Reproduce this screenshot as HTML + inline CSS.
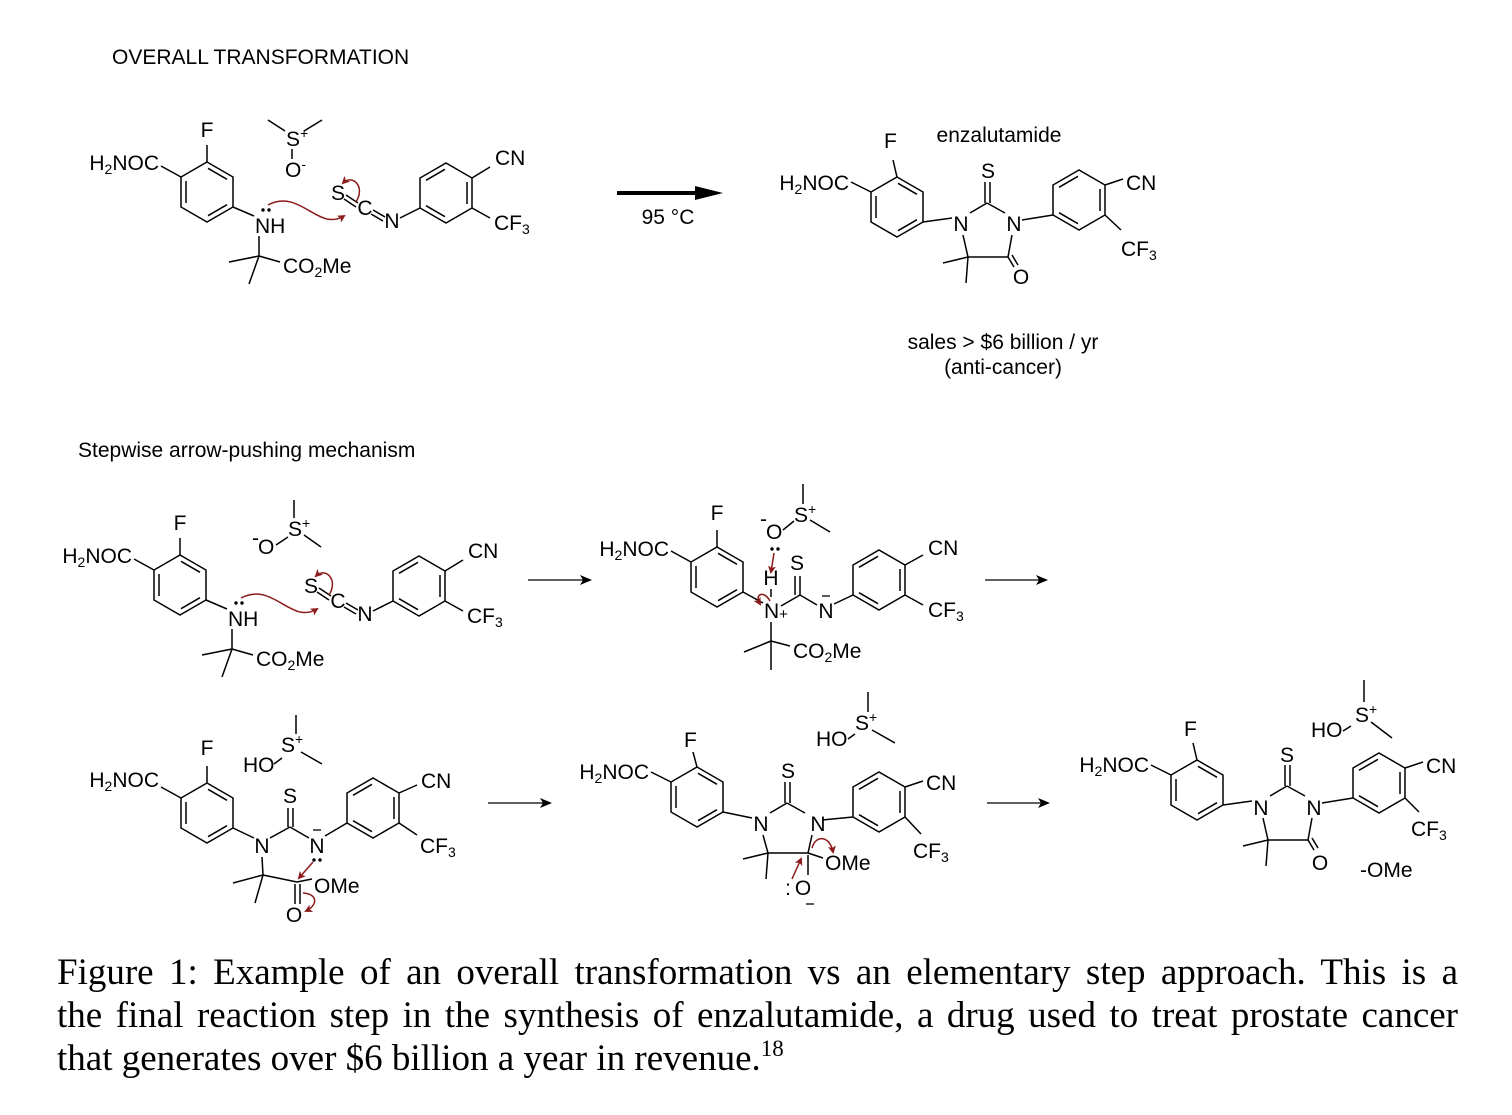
<!DOCTYPE html>
<html><head><meta charset="utf-8"><style>
html,body{margin:0;padding:0;background:#fff;}
body{width:1512px;height:1115px;position:relative;overflow:hidden;}
svg{position:absolute;left:0;top:0;}
svg text{font-family:"Liberation Sans",sans-serif;font-size:21px;fill:#000;}
.cap{position:absolute;left:57px;width:1401px;font-family:"Liberation Serif",serif;font-size:37px;line-height:43px;color:#000;}
.j{text-align:justify;text-align-last:justify;white-space:nowrap;}
</style></head><body>
<svg width="1512" height="1115" viewBox="0 0 1512 1115">
<defs>
<marker id="ar" markerWidth="8" markerHeight="8" refX="6" refY="4" orient="auto" markerUnits="userSpaceOnUse"><path d="M0,0 L8,4 L0,8 L2,4 z" fill="#8b1a1a"/></marker>
<marker id="bk" markerWidth="12" markerHeight="10" refX="10" refY="5" orient="auto" markerUnits="userSpaceOnUse"><path d="M0,0 L12,5 L0,10 L3,5 z" fill="#000"/></marker>
</defs>

<text x="112" y="64">OVERALL TRANSFORMATION</text>
<text x="78" y="457">Stepwise arrow-pushing mechanism</text>

<!-- ========== Molecule A (top) ========== -->
<g id="A">
 <g transform="translate(233,207)">
  <g stroke="#000" stroke-width="1.5" fill="none">
   <polygon points="-26,-45 0,-30 0,0 -26,15 -52,0 -52,-30"/>
   <line x1="-25" y1="-38.7" x2="-6" y2="-27.7"/><line x1="-47" y1="-26" x2="-47" y2="-4"/><line x1="-6" y1="-2.3" x2="-25" y2="8.7"/>
   <line x1="-26" y1="-45" x2="-26" y2="-62"/><line x1="-52" y1="-30" x2="-72" y2="-41"/>
  </g>
  <text x="-26" y="-70" text-anchor="middle">F</text>
  <text x="-74" y="-37" text-anchor="end">H<tspan font-size="14" dy="4">2</tspan><tspan dy="-4">NOC</tspan></text>
 </g>
 <g transform="translate(420,208)">
  <g stroke="#000" stroke-width="1.5" fill="none">
   <polygon points="0,0 0,-30 26,-45 52,-30 52,0 26,15"/>
   <line x1="6" y1="-27.7" x2="25" y2="-38.7"/><line x1="47" y1="-26" x2="47" y2="-4"/><line x1="6" y1="-2.3" x2="25" y2="8.7"/>
   <line x1="52" y1="-30" x2="70" y2="-41"/><line x1="52" y1="0" x2="70" y2="10"/>
  </g>
  <text x="75" y="-43">CN</text>
  <text x="74" y="22">CF<tspan font-size="14" dy="4">3</tspan></text>
 </g>
 <g stroke="#000" stroke-width="1.5" fill="none">
  <line x1="233" y1="207" x2="254" y2="216"/>
  <line x1="259" y1="236" x2="259" y2="256"/>
  <line x1="259" y1="256" x2="229" y2="262"/><line x1="259" y1="256" x2="249" y2="284"/><line x1="259" y1="256" x2="280" y2="262"/>
  <line x1="346" y1="195" x2="358" y2="203"/><line x1="344" y1="199" x2="356" y2="207"/>
  <line x1="373" y1="210" x2="385" y2="217"/><line x1="371" y1="214" x2="383" y2="221"/>
  <line x1="400" y1="218" x2="420" y2="208"/>
 </g>
 <text x="255" y="233">NH</text>
 <circle cx="263" cy="210" r="1.7"/><circle cx="269" cy="210" r="1.7"/>
 <text x="283" y="273">CO<tspan font-size="14" dy="4">2</tspan><tspan dy="-4">Me</tspan></text>
 <text x="338" y="200" text-anchor="middle" font-size="18">S</text>
 <text x="365" y="215" text-anchor="middle" font-size="18">C</text>
 <text x="392" y="228" text-anchor="middle" font-size="18">N</text>
 <path d="M268,205 C300,188 318,232 344,216" stroke="#8b1a1a" stroke-width="1.5" fill="none" marker-end="url(#ar)"/>
 <path d="M356,202 C366,186 352,174 343,183" stroke="#8b1a1a" stroke-width="1.5" fill="none" marker-end="url(#ar)"/>
</g>
<!-- top DMSO -->
<g stroke="#000" stroke-width="1.5"><line x1="268" y1="120" x2="285" y2="131"/><line x1="322" y1="120" x2="304" y2="131"/><line x1="292" y1="149" x2="292" y2="159"/></g>
<text x="286" y="146">S<tspan font-size="14" dy="-8">+</tspan></text>
<text x="285" y="177">O<tspan font-size="14" dy="-8">-</tspan></text>

<!-- top arrow -->
<line x1="617" y1="193" x2="700" y2="193" stroke="#000" stroke-width="4"/>
<path d="M695,186 L723,193 L695,200 z" fill="#000"/>
<text x="668" y="224" text-anchor="middle">95 °C</text>

<!-- ========== Enzalutamide ========== -->
<g id="E">
 <g transform="translate(923,222)">
  <g stroke="#000" stroke-width="1.5" fill="none">
   <polygon points="-26,-45 0,-30 0,0 -26,15 -52,0 -52,-30"/>
   <line x1="-25" y1="-38.7" x2="-6" y2="-27.7"/><line x1="-47" y1="-26" x2="-47" y2="-4"/><line x1="-6" y1="-2.3" x2="-25" y2="8.7"/>
   <line x1="-26" y1="-45" x2="-30" y2="-62"/><line x1="-52" y1="-30" x2="-72" y2="-40"/>
  </g>
  <text x="-39" y="-74">F</text>
  <text x="-74" y="-32" text-anchor="end">H<tspan font-size="14" dy="4">2</tspan><tspan dy="-4">NOC</tspan></text>
 </g>
 <g transform="translate(1053,215)">
  <g stroke="#000" stroke-width="1.5" fill="none">
   <polygon points="0,0 0,-30 26,-45 52,-30 52,0 26,15"/>
   <line x1="6" y1="-27.7" x2="25" y2="-38.7"/><line x1="47" y1="-26" x2="47" y2="-4"/><line x1="6" y1="-2.3" x2="25" y2="8.7"/>
   <line x1="52" y1="-30" x2="70" y2="-36"/><line x1="52" y1="0" x2="68" y2="15"/>
  </g>
  <text x="73" y="-25">CN</text>
  <text x="68" y="41">CF<tspan font-size="14" dy="4">3</tspan></text>
 </g>
 <g stroke="#000" stroke-width="1.5" fill="none">
  <line x1="923" y1="222" x2="952" y2="218"/>
  <line x1="970" y1="213" x2="987" y2="203"/><line x1="985" y1="182" x2="985" y2="203"/><line x1="990" y1="182" x2="990" y2="203"/>
  <line x1="987" y1="203" x2="1005" y2="213"/>
  <line x1="1012" y1="235" x2="1008" y2="257"/>
  <line x1="1008" y1="257" x2="1014" y2="267"/><line x1="1012" y1="255" x2="1018" y2="265"/>
  <line x1="1008" y1="257" x2="968" y2="257"/><line x1="968" y1="257" x2="963" y2="235"/>
  <line x1="968" y1="257" x2="943" y2="263"/><line x1="968" y1="257" x2="966" y2="283"/>
  <line x1="1022" y1="220" x2="1053" y2="215"/>
 </g>
 <text x="961" y="231" text-anchor="middle">N</text>
 <text x="988" y="178" text-anchor="middle">S</text>
 <text x="1014" y="231" text-anchor="middle">N</text>
 <text x="1021" y="284" text-anchor="middle">O</text>
</g>
<text x="999" y="142" text-anchor="middle">enzalutamide</text>
<text x="1003" y="349" text-anchor="middle">sales &gt; $6 billion / yr</text>
<text x="1003" y="374" text-anchor="middle">(anti-cancer)</text>

<!-- ========== Step 1 reactant (copy of A) ========== -->
<g transform="translate(-27,393)">
 <g transform="translate(233,207)">
  <g stroke="#000" stroke-width="1.5" fill="none">
   <polygon points="-26,-45 0,-30 0,0 -26,15 -52,0 -52,-30"/>
   <line x1="-25" y1="-38.7" x2="-6" y2="-27.7"/><line x1="-47" y1="-26" x2="-47" y2="-4"/><line x1="-6" y1="-2.3" x2="-25" y2="8.7"/>
   <line x1="-26" y1="-45" x2="-26" y2="-62"/><line x1="-52" y1="-30" x2="-72" y2="-41"/>
  </g>
  <text x="-26" y="-70" text-anchor="middle">F</text>
  <text x="-74" y="-37" text-anchor="end">H<tspan font-size="14" dy="4">2</tspan><tspan dy="-4">NOC</tspan></text>
 </g>
 <g transform="translate(420,208)">
  <g stroke="#000" stroke-width="1.5" fill="none">
   <polygon points="0,0 0,-30 26,-45 52,-30 52,0 26,15"/>
   <line x1="6" y1="-27.7" x2="25" y2="-38.7"/><line x1="47" y1="-26" x2="47" y2="-4"/><line x1="6" y1="-2.3" x2="25" y2="8.7"/>
   <line x1="52" y1="-30" x2="70" y2="-41"/><line x1="52" y1="0" x2="70" y2="10"/>
  </g>
  <text x="75" y="-43">CN</text>
  <text x="74" y="22">CF<tspan font-size="14" dy="4">3</tspan></text>
 </g>
 <g stroke="#000" stroke-width="1.5" fill="none">
  <line x1="233" y1="207" x2="254" y2="216"/>
  <line x1="259" y1="236" x2="259" y2="256"/>
  <line x1="259" y1="256" x2="229" y2="262"/><line x1="259" y1="256" x2="249" y2="284"/><line x1="259" y1="256" x2="280" y2="262"/>
  <line x1="346" y1="195" x2="358" y2="203"/><line x1="344" y1="199" x2="356" y2="207"/>
  <line x1="373" y1="210" x2="385" y2="217"/><line x1="371" y1="214" x2="383" y2="221"/>
  <line x1="400" y1="218" x2="420" y2="208"/>
 </g>
 <text x="255" y="233">NH</text>
 <circle cx="263" cy="210" r="1.7"/><circle cx="269" cy="210" r="1.7"/>
 <text x="283" y="273">CO<tspan font-size="14" dy="4">2</tspan><tspan dy="-4">Me</tspan></text>
 <text x="338" y="200" text-anchor="middle" font-size="18">S</text>
 <text x="365" y="215" text-anchor="middle" font-size="18">C</text>
 <text x="392" y="228" text-anchor="middle" font-size="18">N</text>
 <path d="M268,205 C300,188 318,232 344,216" stroke="#8b1a1a" stroke-width="1.5" fill="none" marker-end="url(#ar)"/>
 <path d="M356,202 C366,186 352,174 343,183" stroke="#8b1a1a" stroke-width="1.5" fill="none" marker-end="url(#ar)"/>
</g>
<g stroke="#000" stroke-width="1.5"><line x1="294" y1="500" x2="294" y2="518"/><line x1="304" y1="535" x2="321" y2="547"/><line x1="276" y1="545" x2="288" y2="537"/></g>
<text x="252" y="545" font-size="14">-</text>
<text x="258" y="554">O</text>
<text x="288" y="536">S<tspan font-size="14" dy="-8">+</tspan></text>

<!-- arrows row 1 -->
<line x1="528" y1="580" x2="590" y2="580" stroke="#000" stroke-width="1.3" marker-end="url(#bk)"/>
<line x1="985" y1="580" x2="1046" y2="580" stroke="#000" stroke-width="1.3" marker-end="url(#bk)"/>

<!-- ========== Intermediate 1 ========== -->
<g transform="translate(743,592)">
 <g stroke="#000" stroke-width="1.5" fill="none">
  <polygon points="-26,-45 0,-30 0,0 -26,15 -52,0 -52,-30"/>
  <line x1="-25" y1="-38.7" x2="-6" y2="-27.7"/><line x1="-47" y1="-26" x2="-47" y2="-4"/><line x1="-6" y1="-2.3" x2="-25" y2="8.7"/>
  <line x1="-26" y1="-45" x2="-26" y2="-62"/><line x1="-52" y1="-30" x2="-72" y2="-41"/>
 </g>
 <text x="-26" y="-72" text-anchor="middle">F</text>
 <text x="-74" y="-36" text-anchor="end">H<tspan font-size="14" dy="4">2</tspan><tspan dy="-4">NOC</tspan></text>
</g>
<g transform="translate(853,595)">
 <g stroke="#000" stroke-width="1.5" fill="none">
  <polygon points="0,0 0,-30 26,-45 52,-30 52,0 26,15"/>
  <line x1="6" y1="-27.7" x2="25" y2="-38.7"/><line x1="47" y1="-26" x2="47" y2="-4"/><line x1="6" y1="-2.3" x2="25" y2="8.7"/>
  <line x1="52" y1="-30" x2="70" y2="-40"/><line x1="52" y1="0" x2="70" y2="10"/>
 </g>
 <text x="75" y="-40">CN</text>
 <text x="75" y="22">CF<tspan font-size="14" dy="4">3</tspan></text>
</g>
<g stroke="#000" stroke-width="1.5" fill="none">
 <line x1="743" y1="592" x2="763" y2="603"/>
 <line x1="771" y1="589" x2="771" y2="597"/>
 <line x1="781" y1="606" x2="800" y2="595"/><line x1="795" y1="576" x2="795" y2="595"/><line x1="800" y1="576" x2="800" y2="595"/>
 <line x1="800" y1="595" x2="817" y2="605"/><line x1="834" y1="604" x2="853" y2="595"/>
 <line x1="771" y1="622" x2="771" y2="641"/>
 <line x1="771" y1="641" x2="744" y2="652"/><line x1="771" y1="641" x2="771" y2="670"/><line x1="771" y1="641" x2="790" y2="646"/>
 <line x1="803" y1="484" x2="803" y2="504"/><line x1="810" y1="520" x2="830" y2="532"/><line x1="783" y1="530" x2="794" y2="521"/>
</g>
<text x="771" y="585" text-anchor="middle">H</text>
<text x="764" y="618">N<tspan font-size="15" dy="1">+</tspan></text>
<text x="797" y="570" text-anchor="middle">S</text>
<text x="826" y="618" text-anchor="middle">N</text>
<line x1="822" y1="596" x2="830" y2="596" stroke="#000" stroke-width="1.3"/>
<text x="793" y="658">CO<tspan font-size="14" dy="4">2</tspan><tspan dy="-4">Me</tspan></text>
<text x="760" y="526" font-size="14">-</text>
<text x="766" y="539">O</text>
<text x="794" y="522">S<tspan font-size="14" dy="-8">+</tspan></text>
<circle cx="772" cy="549" r="1.7"/><circle cx="778" cy="549" r="1.7"/>
<path d="M774,553 L771,572" stroke="#8b1a1a" stroke-width="1.5" fill="none" marker-end="url(#ar)"/>
<path d="M770,601 C764,590 754,594 760,604" stroke="#8b1a1a" stroke-width="1.5" fill="none" marker-end="url(#ar)"/>

<!-- arrows row 2 -->
<line x1="488" y1="803" x2="550" y2="803" stroke="#000" stroke-width="1.3" marker-end="url(#bk)"/>
<line x1="987" y1="803" x2="1048" y2="803" stroke="#000" stroke-width="1.3" marker-end="url(#bk)"/>

<!-- ========== Intermediate 2 ========== -->
<g transform="translate(233,828)">
 <g stroke="#000" stroke-width="1.5" fill="none">
  <polygon points="-26,-45 0,-30 0,0 -26,15 -52,0 -52,-30"/>
  <line x1="-25" y1="-38.7" x2="-6" y2="-27.7"/><line x1="-47" y1="-26" x2="-47" y2="-4"/><line x1="-6" y1="-2.3" x2="-25" y2="8.7"/>
  <line x1="-26" y1="-45" x2="-26" y2="-62"/><line x1="-52" y1="-30" x2="-72" y2="-41"/>
 </g>
 <text x="-26" y="-73" text-anchor="middle">F</text>
 <text x="-74" y="-41" text-anchor="end">H<tspan font-size="14" dy="4">2</tspan><tspan dy="-4">NOC</tspan></text>
</g>
<g transform="translate(347,823)">
 <g stroke="#000" stroke-width="1.5" fill="none">
  <polygon points="0,0 0,-30 26,-45 52,-30 52,0 26,15"/>
  <line x1="6" y1="-27.7" x2="25" y2="-38.7"/><line x1="47" y1="-26" x2="47" y2="-4"/><line x1="6" y1="-2.3" x2="25" y2="8.7"/>
  <line x1="52" y1="-30" x2="70" y2="-38"/><line x1="52" y1="0" x2="70" y2="12"/>
 </g>
 <text x="74" y="-35">CN</text>
 <text x="73" y="30">CF<tspan font-size="14" dy="4">3</tspan></text>
</g>
<g stroke="#000" stroke-width="1.5" fill="none">
 <line x1="233" y1="828" x2="254" y2="838"/>
 <line x1="270" y1="838" x2="290" y2="827"/><line x1="288" y1="808" x2="288" y2="827"/><line x1="293" y1="808" x2="293" y2="827"/>
 <line x1="290" y1="827" x2="309" y2="838"/><line x1="325" y1="836" x2="347" y2="823"/>
 <line x1="262" y1="857" x2="263" y2="875"/>
 <line x1="263" y1="875" x2="233" y2="883"/><line x1="263" y1="875" x2="255" y2="903"/><line x1="263" y1="875" x2="297" y2="882"/>
 <line x1="297" y1="882" x2="312" y2="879"/>
 <line x1="295" y1="884" x2="295" y2="904"/><line x1="300" y1="884" x2="300" y2="904"/>
 <line x1="296" y1="715" x2="296" y2="734"/><line x1="301" y1="752" x2="322" y2="764"/><line x1="274" y1="764" x2="282" y2="758"/>
</g>
<text x="262" y="853" text-anchor="middle">N</text>
<text x="290" y="803" text-anchor="middle">S</text>
<text x="317" y="853" text-anchor="middle">N</text>
<line x1="313" y1="830" x2="321" y2="830" stroke="#000" stroke-width="1.3"/>
<circle cx="314" cy="860" r="1.7"/><circle cx="320" cy="860" r="1.7"/>
<text x="314" y="893">OMe</text>
<text x="294" y="922" text-anchor="middle">O</text>
<text x="243" y="772">HO</text>
<text x="281" y="752">S<tspan font-size="14" dy="-8">+</tspan></text>
<path d="M313,862 L299,878" stroke="#8b1a1a" stroke-width="1.5" fill="none" marker-end="url(#ar)"/>
<path d="M303,893 C318,894 318,905 306,911" stroke="#8b1a1a" stroke-width="1.5" fill="none" marker-end="url(#ar)"/>

<!-- ========== Intermediate 3 ========== -->
<g transform="translate(723,812)">
 <g stroke="#000" stroke-width="1.5" fill="none">
  <polygon points="-26,-45 0,-30 0,0 -26,15 -52,0 -52,-30"/>
  <line x1="-25" y1="-38.7" x2="-6" y2="-27.7"/><line x1="-47" y1="-26" x2="-47" y2="-4"/><line x1="-6" y1="-2.3" x2="-25" y2="8.7"/>
  <line x1="-26" y1="-45" x2="-30" y2="-60"/><line x1="-52" y1="-30" x2="-72" y2="-40"/>
 </g>
 <text x="-39" y="-65">F</text>
 <text x="-74" y="-33" text-anchor="end">H<tspan font-size="14" dy="4">2</tspan><tspan dy="-4">NOC</tspan></text>
</g>
<g transform="translate(853,817)">
 <g stroke="#000" stroke-width="1.5" fill="none">
  <polygon points="0,0 0,-30 26,-45 52,-30 52,0 26,15"/>
  <line x1="6" y1="-27.7" x2="25" y2="-38.7"/><line x1="47" y1="-26" x2="47" y2="-4"/><line x1="6" y1="-2.3" x2="25" y2="8.7"/>
  <line x1="52" y1="-30" x2="70" y2="-36"/><line x1="52" y1="0" x2="68" y2="17"/>
 </g>
 <text x="73" y="-27">CN</text>
 <text x="60" y="41">CF<tspan font-size="14" dy="4">3</tspan></text>
</g>
<g transform="translate(-200,600)">
 <g stroke="#000" stroke-width="1.5" fill="none">
  <line x1="923" y1="212" x2="952" y2="218"/>
  <line x1="970" y1="213" x2="987" y2="203"/><line x1="985" y1="182" x2="985" y2="203"/><line x1="990" y1="182" x2="990" y2="203"/>
  <line x1="987" y1="203" x2="1005" y2="213"/>
  <line x1="1012" y1="235" x2="1008" y2="253"/>
  <line x1="1008" y1="253" x2="968" y2="253"/><line x1="968" y1="253" x2="963" y2="235"/>
  <line x1="968" y1="253" x2="943" y2="259"/><line x1="968" y1="253" x2="966" y2="279"/>
  <line x1="1022" y1="220" x2="1053" y2="217"/>
  <line x1="1008" y1="253" x2="1023" y2="258"/>
  <line x1="1008" y1="255" x2="1008" y2="275"/>
 </g>
 <text x="961" y="231" text-anchor="middle">N</text>
 <text x="988" y="178" text-anchor="middle">S</text>
 <text x="1018" y="231" text-anchor="middle">N</text>
 <text x="1025" y="270">OMe</text>
 <text x="1003" y="295" text-anchor="middle">O</text>
 <text x="988" y="295" text-anchor="middle">:</text>
 <line x1="1006" y1="304" x2="1014" y2="304" stroke="#000" stroke-width="1.3"/>
 <path d="M992,279 L1001,259" stroke="#8b1a1a" stroke-width="1.5" fill="none" marker-end="url(#ar)"/>
 <path d="M1012,248 C1016,234 1030,236 1033,252" stroke="#8b1a1a" stroke-width="1.5" fill="none" marker-end="url(#ar)"/>
</g>
<g stroke="#000" stroke-width="1.5"><line x1="868" y1="692" x2="868" y2="712"/><line x1="872" y1="730" x2="895" y2="743"/><line x1="848" y1="739" x2="855" y2="734"/></g>
<text x="816" y="746">HO</text>
<text x="855" y="730">S<tspan font-size="14" dy="-8">+</tspan></text>

<!-- ========== Product ========== -->
<g transform="translate(300,583)">
 <g transform="translate(923,222)">
  <g stroke="#000" stroke-width="1.5" fill="none">
   <polygon points="-26,-45 0,-30 0,0 -26,15 -52,0 -52,-30"/>
   <line x1="-25" y1="-38.7" x2="-6" y2="-27.7"/><line x1="-47" y1="-26" x2="-47" y2="-4"/><line x1="-6" y1="-2.3" x2="-25" y2="8.7"/>
   <line x1="-26" y1="-45" x2="-30" y2="-62"/><line x1="-52" y1="-30" x2="-72" y2="-40"/>
  </g>
  <text x="-39" y="-69">F</text>
  <text x="-74" y="-33" text-anchor="end">H<tspan font-size="14" dy="4">2</tspan><tspan dy="-4">NOC</tspan></text>
 </g>
 <g transform="translate(1053,215)">
  <g stroke="#000" stroke-width="1.5" fill="none">
   <polygon points="0,0 0,-30 26,-45 52,-30 52,0 26,15"/>
   <line x1="6" y1="-27.7" x2="25" y2="-38.7"/><line x1="47" y1="-26" x2="47" y2="-4"/><line x1="6" y1="-2.3" x2="25" y2="8.7"/>
   <line x1="52" y1="-30" x2="70" y2="-36"/><line x1="52" y1="0" x2="66" y2="14"/>
  </g>
  <text x="73" y="-25">CN</text>
  <text x="58" y="38">CF<tspan font-size="14" dy="4">3</tspan></text>
 </g>
 <g stroke="#000" stroke-width="1.5" fill="none">
  <line x1="923" y1="222" x2="952" y2="218"/>
  <line x1="970" y1="213" x2="987" y2="203"/><line x1="985" y1="182" x2="985" y2="203"/><line x1="990" y1="182" x2="990" y2="203"/>
  <line x1="987" y1="203" x2="1005" y2="213"/>
  <line x1="1012" y1="235" x2="1008" y2="257"/>
  <line x1="1008" y1="257" x2="1014" y2="267"/><line x1="1012" y1="255" x2="1018" y2="265"/>
  <line x1="1008" y1="257" x2="968" y2="257"/><line x1="968" y1="257" x2="963" y2="235"/>
  <line x1="968" y1="257" x2="943" y2="263"/><line x1="968" y1="257" x2="966" y2="283"/>
  <line x1="1022" y1="220" x2="1053" y2="215"/>
 </g>
 <text x="961" y="232" text-anchor="middle">N</text>
 <text x="987" y="179" text-anchor="middle">S</text>
 <text x="1014" y="232" text-anchor="middle">N</text>
 <text x="1020" y="287" text-anchor="middle">O</text>
</g>
<text x="1360" y="877">-OMe</text>
<g stroke="#000" stroke-width="1.5"><line x1="1364" y1="680" x2="1364" y2="702"/><line x1="1371" y1="722" x2="1392" y2="738"/><line x1="1343" y1="731" x2="1351" y2="726"/></g>
<text x="1311" y="737">HO</text>
<text x="1355" y="722">S<tspan font-size="14" dy="-8">+</tspan></text>
</svg>

<div class="cap" style="top:951px;">
<div class="j">Figure 1: Example of an overall transformation vs an elementary step approach. This is a</div>
<div class="j">the final reaction step in the synthesis of enzalutamide, a drug used to treat prostate cancer</div>
<div>that generates over $6 billion a year in revenue.<sup style="font-size:23px;vertical-align:14px;line-height:0">18</sup></div>
</div>
</body></html>
